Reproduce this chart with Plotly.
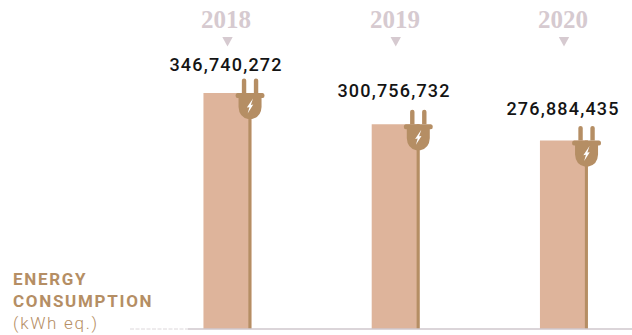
import plotly.graph_objects as go

# Annual energy use, kWh equivalent
years = ["2018", "2019", "2020"]
consumption = [346740272, 300756732, 276884435]
value_labels = ["346,740,272", "300,756,732", "276,884,435"]
label_lift_px = [29, 34, 32]
title_lines = ["ENERGY", "CONSUMPTION"]
unit_line = "(kWh eq.)"

BAR = "#deb49b"
EDGE = "#b58e64"
MAUVE = "#d6cad0"
BASELINE = "#cfc7cd"

positions = list(range(len(years)))

fig = go.Figure()
fig.add_bar(x=positions, y=consumption, width=0.285, offset=-0.14,
            marker=dict(color=BAR, line_width=0), hoverinfo="skip")
fig.add_bar(x=positions, y=consumption, width=0.018, offset=0.127,
            marker=dict(color=EDGE, line_width=0), hoverinfo="skip")

# Plug outline, in pixels around the top of the bar
PRONGS = ("M-8.2,0 L-8.2,12.5 Q-8.2,14.5 -6,14.5 Q-3.8,14.5 -3.8,12.5 L-3.8,0 Z "
          "M3.8,0 L3.8,12.5 Q3.8,14.5 6,14.5 Q8.2,14.5 8.2,12.5 L8.2,0 Z")
BODY = ("M-12.5,0 L12.5,0 Q14.5,-0.2 14.5,-2.5 Q14.5,-5 12.5,-5 L11.5,-5 L11.5,-14 "
        "Q11,-24 2,-26 L-2,-26 Q-11,-24 -11.5,-14 L-11.5,-5 L-12.5,-5 "
        "Q-14.5,-5 -14.5,-2.5 Q-14.5,-0.2 -12.5,0 Z")
BOLT = "M3,-5.5 L-3.2,-14.6 L-0.6,-14.2 L-2.4,-20.5 L3.2,-11.6 L0.8,-12 Z"
TRIANGLE = "M-5.2,0 L5.2,0 L0,-9.5 Z"

shapes = []
for pos, value in zip(positions, consumption):
    for path, colour in ((PRONGS, EDGE), (BODY, EDGE), (BOLT, "white")):
        shapes.append(dict(type="path", path=path, xsizemode="pixel", ysizemode="pixel",
                           xref="x", yref="y", xanchor=pos + 0.137, yanchor=value,
                           fillcolor=colour, line_width=0, layer="above"))
    shapes.append(dict(type="path", path=TRIANGLE, xsizemode="pixel", ysizemode="pixel",
                       xref="x", yref="paper", xanchor=pos + 0.003, yanchor=1 - 37 / 335,
                       fillcolor=MAUVE, line_width=0))

# Baseline, with a faint dashed lead-in on the left
shapes.append(dict(type="line", xref="paper", yref="y", x0=188 / 632, x1=1, y0=0, y1=0,
                   line=dict(color=BASELINE, width=1.5)))
shapes.append(dict(type="line", xref="paper", yref="y", x0=130 / 632, x1=188 / 632, y0=0, y1=0,
                   line=dict(color="#dcd7da", width=1, dash="4px 1.5px")))

annotations = []
for pos, year, value, text, lift in zip(positions, years, consumption, value_labels, label_lift_px):
    annotations.append(dict(x=pos - 0.004, y=1, yref="paper", yshift=-19.5, text=year, showarrow=False,
                            yanchor="middle", font=dict(family="Liberation Serif", size=25,
                                                        color=MAUVE, weight=700)))
    annotations.append(dict(x=pos - 0.005, y=value, yshift=lift, text=text, showarrow=False,
                            yanchor="middle", font=dict(family="Roboto", size=18, color="#141414",
                                                        weight=500)))

for line, top in zip(title_lines, (279, 301)):
    annotations.append(dict(xref="paper", yref="paper", x=11 / 632, y=1 - top / 335, text=line,
                            showarrow=False, xanchor="left", yanchor="middle", align="left",
                            font=dict(family="Roboto", size=17, color=EDGE, weight=700)))
annotations.append(dict(xref="paper", yref="paper", x=11 / 632, y=1 - 323 / 335, text=unit_line,
                        showarrow=False, xanchor="left", yanchor="middle", align="left",
                        font=dict(family="Roboto", size=17, color=EDGE, weight=300)))

px_per_unit = 236 / consumption[0]
fig.update_layout(
    width=632, height=335, margin=dict(l=0, r=0, t=0, b=0),
    paper_bgcolor="white", plot_bgcolor="white", showlegend=False, barmode="overlay",
    xaxis=dict(visible=False, range=[-227 / 168.25, (632 - 227) / 168.25]),
    yaxis=dict(visible=False, range=[-6 / px_per_unit, 329 / px_per_unit]),
    shapes=shapes, annotations=annotations,
)

# Wider tracking on the value labels and the side title
tracking = """
document.querySelectorAll('.annotation-text').forEach(function (t) {
  var s = t.textContent;
  if (/^\\d{3},/.test(s)) t.style.letterSpacing = '1.2px';
  else if (/^[A-Z]+$/.test(s)) t.style.letterSpacing = '1.7px';
  else if (s[0] === '(') t.style.letterSpacing = '1.7px';
});
"""
fig.write_html("out.html", post_script=tracking, config={"displayModeBar": False})
